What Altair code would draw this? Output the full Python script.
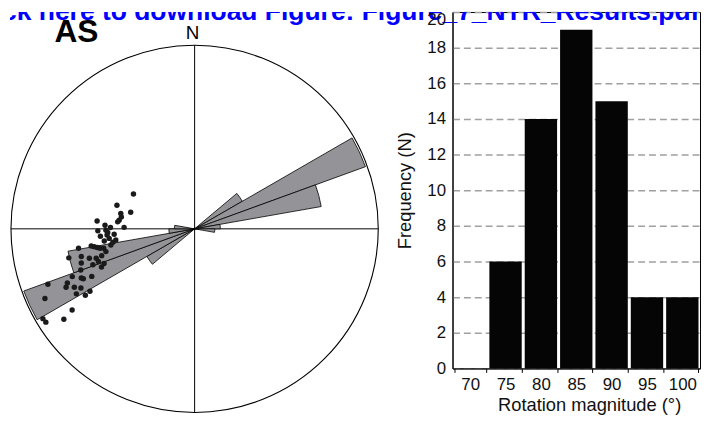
import altair as alt
import pandas as pd
import numpy as np

# ---------------- data ----------------
# Rose diagram (axial data, 10 degree sectors): sector start azimuth, relative frequency
sector_start = [50, 60, 70, 80, 90, 230, 240, 250, 260, 270]
sector_freq = [0.30, 0.99, 0.70, 0.14, 0.11, 0.30, 0.99, 0.70, 0.14, 0.11]

# Poles plotted on the net (projected coordinates, net radius = 1)
pt_east = [-0.333, -0.423, -0.348, -0.402, -0.399, -0.411, -0.419, -0.531, -0.384, -0.488,
           -0.458, -0.483, -0.527, -0.438, -0.513, -0.477, -0.429, -0.492, -0.465, -0.456,
           -0.495, -0.483, -0.563, -0.547, -0.531, -0.515, -0.632, -0.617, -0.573, -0.536,
           -0.506, -0.524, -0.554, -0.617, -0.685, -0.493, -0.507, -0.620, -0.560, -0.617,
           -0.606, -0.666, -0.693, -0.700, -0.655, -0.619, -0.644, -0.595, -0.570, -0.799,
           -0.815, -0.667, -0.712, -0.826, -0.810, -0.473, -0.445]
pt_north = [0.190, 0.128, 0.090, 0.084, 0.065, 0.047, 0.038, 0.043, 0.008, 0.020,
            0.007, -0.007, -0.011, -0.029, -0.040, -0.034, -0.061, -0.066, -0.052, -0.088,
            -0.106, -0.124, -0.093, -0.097, -0.102, -0.106, -0.106, -0.151, -0.160, -0.160,
            -0.146, -0.178, -0.196, -0.186, -0.158, -0.189, -0.208, -0.224, -0.259, -0.268,
            -0.272, -0.260, -0.295, -0.318, -0.318, -0.322, -0.354, -0.362, -0.340, -0.302,
            -0.379, -0.442, -0.492, -0.489, -0.508, -0.020, -0.073]

# Histogram of rotation magnitude
bins = [70, 75, 80, 85, 90, 95, 100]
counts = [0, 6, 14, 19, 15, 4, 4]

panel_label = "AS"
north_label = "N"
banner = "ck here to download Figure: Figure_7_NTR_Results.pdf"

# ---------------- styling ----------------
FONT = "Liberation Sans"
R_PX = 185.5
LEFT_W, LEFT_H = 447, 405
RIGHT_W, RIGHT_H = 250, 360

xs = alt.Scale(domain=[-186.5 / R_PX, (LEFT_W - 186.5) / R_PX], nice=False, zero=False)
ys = alt.Scale(domain=[-(LEFT_H - 219) / R_PX, 219 / R_PX], nice=False, zero=False)
ts = alt.Scale(type="linear", domain=[0, 360], range=[0, 2 * np.pi], nice=False, zero=False)
rs = alt.Scale(type="linear", domain=[0, 1], range=[0, R_PX], nice=False, zero=True)

one = pd.DataFrame({"k": [0]})
rose_df = pd.DataFrame({"a0": sector_start,
                        "a1": [s + 10 for s in sector_start],
                        "f": sector_freq})
pts_df = pd.DataFrame({"e": pt_east, "n": pt_north})
hist_df = pd.DataFrame({"bin": bins, "count": counts})
txt_df = pd.DataFrame({"t": [banner]})

circle = alt.Chart(one).mark_arc(filled=False, stroke="black", strokeWidth=1.1).encode(
    x=alt.XDatum(0, scale=xs, axis=None),
    y=alt.YDatum(0, scale=ys, axis=None),
    theta=alt.ThetaDatum(0, scale=ts),
    theta2=alt.Theta2Datum(360),
    radius=alt.value(R_PX),
)

cross_h = alt.Chart(one).mark_rule(color="black", strokeWidth=1).encode(
    x=alt.XDatum(-1, scale=xs, axis=None),
    x2=alt.X2Datum(1),
    y=alt.YDatum(0, scale=ys, axis=None),
)
cross_v = alt.Chart(one).mark_rule(color="black", strokeWidth=1).encode(
    y=alt.YDatum(-1, scale=ys, axis=None),
    y2=alt.Y2Datum(1),
    x=alt.XDatum(0, scale=xs, axis=None),
)

petals = alt.Chart(rose_df).mark_arc(fill="#949498", stroke="black", strokeWidth=0.8).encode(
    x=alt.XDatum(0, scale=xs, axis=None),
    y=alt.YDatum(0, scale=ys, axis=None),
    theta=alt.Theta("a0:Q", scale=ts, stack=None),
    theta2="a1:Q",
    radius=alt.Radius("f:Q", scale=rs),
)

points = alt.Chart(pts_df).mark_circle(size=30, color="#1a1a1a", opacity=1).encode(
    x=alt.X("e:Q", scale=xs, axis=None),
    y=alt.Y("n:Q", scale=ys, axis=None),
)

n_text = alt.Chart(one).mark_text(text=north_label, fontSize=19, font=FONT, align="center",
                                  baseline="alphabetic", color="black").encode(
    x=alt.XDatum(-0.012, scale=xs, axis=None),
    y=alt.YDatum(1.035, scale=ys, axis=None),
)
as_text = alt.Chart(one).mark_text(text=panel_label, fontSize=32, fontWeight="bold", font=FONT,
                                   align="left", baseline="alphabetic", color="black").encode(
    x=alt.XDatum(-0.763, scale=xs, axis=None),
    y=alt.YDatum(1.019, scale=ys, axis=None),
)

banner_left = alt.Chart(txt_df).mark_text(fontSize=26.7, fontWeight="bold", font=FONT, color="#0000ff",
                                          align="left", baseline="alphabetic", clip=True).encode(
    text="t:N", x=alt.value(-8), y=alt.value(8),
)

left = alt.layer(circle, cross_h, cross_v, petals, points, n_text, as_text, banner_left).properties(
    width=LEFT_W, height=LEFT_H, view=alt.ViewBackground(stroke="transparent")
)

bars = alt.Chart(hist_df).mark_bar(color="#050505").encode(
    x=alt.X("bin:O",
            scale=alt.Scale(paddingInner=0.085, paddingOuter=0.0425),
            axis=alt.Axis(title="Rotation magnitude (°)", labelAngle=0, tickBand="extent",
                          tickSize=4, tickColor="black", domainColor="black", labelPadding=4,
                          titlePadding=4, titleX=138, labelFontSize=17, titleFontSize=18.5,
                          titleFontWeight="normal", labelColor="#111", titleColor="#111",
                          labelFont=FONT, titleFont=FONT, grid=False)),
    y=alt.Y("count:Q",
            scale=alt.Scale(domain=[0, 20], nice=False),
            axis=alt.Axis(title="Frequency (N)", values=list(range(0, 21, 2)), ticks=False,
                          labelPadding=7, grid=True, gridDash=[7, 4], gridColor="#a0a0a0",
                          gridWidth=1.5, domainColor="black", titlePadding=13,
                          labelFontSize=17, titleFontSize=18.5, titleFontWeight="normal",
                          labelColor="#111", titleColor="#111", labelFont=FONT, titleFont=FONT,
                          labelBaseline=alt.condition("datum.value == 20", alt.value("top"), alt.value("middle")))),
)

banner_right = alt.Chart(txt_df).mark_text(fontSize=26.7, fontWeight="bold", font=FONT, color="#0000ff",
                                           align="left", baseline="alphabetic", clip=True).encode(
    text="t:N", x=alt.value(-455), y=alt.value(8),
)

right = alt.layer(bars, banner_right).properties(
    width=RIGHT_W, height=RIGHT_H, view=alt.ViewBackground(stroke="black", strokeWidth=1)
)

chart = alt.hconcat(left, right, spacing=0, bounds="flush").properties(padding=0).configure(font=FONT)

chart.save("out.html", embed_options={"renderer": "svg", "actions": False})
